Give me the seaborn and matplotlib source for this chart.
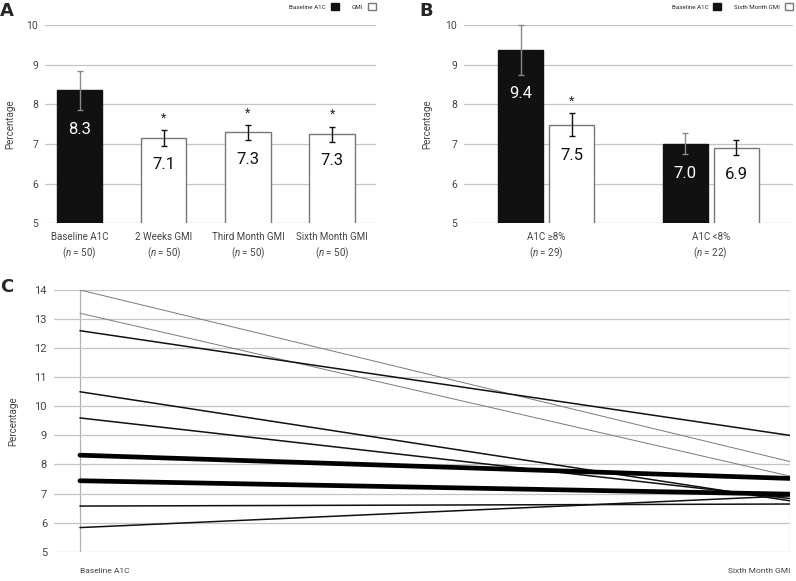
import numpy as np
import pandas as pd
import matplotlib
matplotlib.use("Agg")
import matplotlib.pyplot as plt
import seaborn as sns
from matplotlib.patches import Patch
from matplotlib.container import BarContainer

# Panel A: mean A1C / GMI values
a_labels = ["Baseline A1C", "2 Weeks GMI", "Third Month GMI", "Sixth Month GMI"]
a_n = [50, 50, 50, 50]
a_means = [8.35, 7.16, 7.29, 7.25]
a_err = [0.5, 0.2, 0.2, 0.19]
a_text = ["8.3", "7.1", "7.3", "7.3"]
a_star = [False, True, True, True]

# Panel B: subgroups by baseline A1C
b_groups = ["A1C ≥8%", "A1C <8%"]
b_n = [29, 22]
b_series = ["Baseline A1C", "Sixth Month GMI"]
b_baseline = [9.37, 7.01]
b_baseline_err = [0.63, 0.27]
b_baseline_text = ["9.4", "7.0"]
b_sixth = [7.48, 6.90]
b_sixth_err = [0.29, 0.19]
b_sixth_text = ["7.5", "6.9"]
b_sixth_star = [True, False]

# Panel C: individual trajectories (baseline -> sixth month)
c_times = ["Baseline A1C", "Sixth Month GMI"]
c_start = [14.0, 13.2, 12.6, 10.5, 9.6, 8.32, 7.44, 6.57, 5.83]
c_end = [8.1, 7.6, 9.0, 6.75, 6.83, 7.52, 6.98, 6.64, 6.92]
c_kind = ["gray", "gray", "dark", "dark", "dark", "mean", "mean", "dark", "dark"]

sns.set_style("white")
plt.rcParams["font.family"] = ["Roboto", "DejaVu Sans"]
plt.rcParams["mathtext.fontset"] = "custom"
plt.rcParams["mathtext.rm"] = "Roboto"
plt.rcParams["mathtext.it"] = "Roboto:italic"

GRID = "#c4c4c4"
TXT = "#444444"

fig = plt.figure(figsize=(7.96, 5.81), dpi=100)
ax_a = fig.add_axes([0.0565, 0.6157, 0.4159, 0.3413])
ax_b = fig.add_axes([0.5829, 0.6157, 0.4133, 0.3413])
ax_c = fig.add_axes([0.0678, 0.0504, 0.9246, 0.4505])


def style_axes(ax):
    for s in ax.spines.values():
        s.set_visible(False)
    ax.set_axisbelow(True)
    ax.grid(axis="y", color=GRID, linewidth=0.9)
    ax.tick_params(axis="y", length=0, pad=5, labelsize=7.5, labelcolor=TXT)
    ax.set_ylabel("Percentage", fontsize=7, color=TXT)


# ---------- Panel A ----------
df_a = pd.DataFrame({"label": a_labels, "mean": a_means})
sns.barplot(data=df_a, x="label", y="mean", hue="label",
            palette=["#111111", "white", "white", "white"],
            width=0.54, legend=False, ax=ax_a)
for i, p in enumerate(ax_a.patches):
    p.set_edgecolor("#111111" if i == 0 else "#777777")
    p.set_linewidth(1.0)
xs = np.arange(len(a_means))
for i in range(len(a_means)):
    ecol = "#8a8a8a" if i == 0 else "#111111"
    eb = ax_a.errorbar(xs[i], a_means[i], yerr=a_err[i], fmt="none", ecolor=ecol,
                       elinewidth=1.0, capsize=2.2, capthick=1.0)
    for art in eb.lines[1] + eb.lines[2]:
        art.set_clip_on(False)
    ax_a.text(xs[i], a_means[i] - a_err[i] - 0.48, a_text[i], ha="center", va="center",
              fontsize=12, color="white" if i == 0 else "#111111")
    if a_star[i]:
        ax_a.text(xs[i], a_means[i] + a_err[i] + 0.30, "*", ha="center", va="center",
                  fontsize=9, color="#222222")
ax_a.set_ylim(5, 10)
ax_a.set_xlim(-0.41, 3.52)
ax_a.set_xticks(xs)
ax_a.set_xticklabels([f"{l}\n($n$ = {n})" for l, n in zip(a_labels, a_n)], linespacing=1.45)
ax_a.set_xlabel("")
style_axes(ax_a)
ax_a.tick_params(axis="x", length=0, pad=6, labelsize=7, labelcolor=TXT)
ax_a.yaxis.set_label_coords(-0.09, 0.5)

h_a = [Patch(facecolor="#111111", edgecolor="#111111"),
       Patch(facecolor="white", edgecolor="#777777")]
ax_a.legend(h_a, ["Baseline A1C", "GMI"], loc="center right", bbox_to_anchor=(1.0, 1.093),
            ncol=2, frameon=False, markerfirst=False, fontsize=4.5, handlelength=1.3,
            handleheight=1.3, handletextpad=0.8, columnspacing=2.0, borderpad=0,
            borderaxespad=0)

# ---------- Panel B ----------
df_b = pd.DataFrame({
    "group": b_groups * 2,
    "series": [b_series[0]] * 2 + [b_series[1]] * 2,
    "mean": b_baseline + b_sixth,
})
sns.barplot(data=df_b, x="group", y="mean", hue="series",
            palette=["#111111", "white"], width=0.623, gap=0.12, legend=False, ax=ax_b)
series_vals = [(b_baseline, b_baseline_err, b_baseline_text, [False, False]),
               (b_sixth, b_sixth_err, b_sixth_text, b_sixth_star)]
bar_conts = [c for c in ax_b.containers if isinstance(c, BarContainer)]
for k, cont in enumerate(bar_conts):
    vals, errs, texts, stars = series_vals[k]
    for j, p in enumerate(cont.patches):
        p.set_edgecolor("#111111" if k == 0 else "#777777")
        p.set_linewidth(1.0)
        cx = p.get_x() + p.get_width() / 2
        eb = ax_b.errorbar(cx, vals[j], yerr=errs[j], fmt="none",
                           ecolor="#8a8a8a" if k == 0 else "#111111",
                           elinewidth=1.0, capsize=2.2, capthick=1.0)
        for art in eb.lines[1] + eb.lines[2]:
            art.set_clip_on(False)
        ax_b.text(cx, vals[j] - errs[j] - 0.48, texts[j], ha="center", va="center",
                  fontsize=12, color="white" if k == 0 else "#111111")
        if stars[j]:
            ax_b.text(cx, vals[j] + errs[j] + 0.30, "*", ha="center", va="center",
                      fontsize=9, color="#222222")
ax_b.set_ylim(5, 10)
ax_b.set_xlim(-0.5, 1.5)
ax_b.set_xticks([0, 1])
ax_b.set_xticklabels([f"{g}\n($n$ = {n})" for g, n in zip(b_groups, b_n)], linespacing=1.45)
ax_b.set_xlabel("")
style_axes(ax_b)
ax_b.tick_params(axis="x", length=0, pad=6, labelsize=7, labelcolor=TXT)
ax_b.yaxis.set_label_coords(-0.097, 0.5)

h_b = [Patch(facecolor="#111111", edgecolor="#111111"),
       Patch(facecolor="white", edgecolor="#777777")]
ax_b.legend(h_b, b_series, loc="center right", bbox_to_anchor=(1.0, 1.093),
            ncol=2, frameon=False, markerfirst=False, fontsize=4.5, handlelength=1.3,
            handleheight=1.3, handletextpad=0.8, columnspacing=2.0, borderpad=0,
            borderaxespad=0)

# ---------- Panel C ----------
rows = []
for i in range(len(c_start)):
    rows.append({"id": i, "t": 0, "value": c_start[i], "kind": c_kind[i]})
    rows.append({"id": i, "t": 1, "value": c_end[i], "kind": c_kind[i]})
df_c = pd.DataFrame(rows)
sns.lineplot(data=df_c, x="t", y="value", units="id", estimator=None,
             hue="kind", size="kind",
             palette={"gray": "#7a7a7a", "dark": "#111111", "mean": "#000000"},
             sizes={"gray": 0.7, "dark": 1.1, "mean": 3.4},
             legend=False, ax=ax_c)
ax_c.set_ylim(5, 14)
ax_c.set_yticks(range(5, 15))
ax_c.set_xlim(-0.0366, 1.0)
ax_c.set_xticks([0, 1])
ax_c.set_xticklabels(c_times)
ax_c.set_xlabel("")
style_axes(ax_c)
ax_c.grid(axis="x", color="#b0b0b0", linewidth=0.9)
ax_c.tick_params(axis="y", labelsize=8)
ax_c.tick_params(axis="x", length=6.5, width=0.9, color="#b0b0b0", direction="out",
                 pad=5.5, labelsize=6, labelcolor=TXT)
tl = ax_c.get_xticklabels()
tl[0].set_ha("left")
tl[1].set_ha("right")
ax_c.yaxis.set_label_coords(-0.049, 0.5)

# Panel letters
fig.text(0.0, 1 - 16 / 581, "A", fontsize=13, fontweight="bold", family="DejaVu Sans")
fig.text(419 / 796, 1 - 16 / 581, "B", fontsize=13, fontweight="bold", family="DejaVu Sans")
fig.text(0.0, 1 - 292 / 581, "C", fontsize=13, fontweight="bold", family="DejaVu Sans")

fig.savefig("out.png", dpi=100)
